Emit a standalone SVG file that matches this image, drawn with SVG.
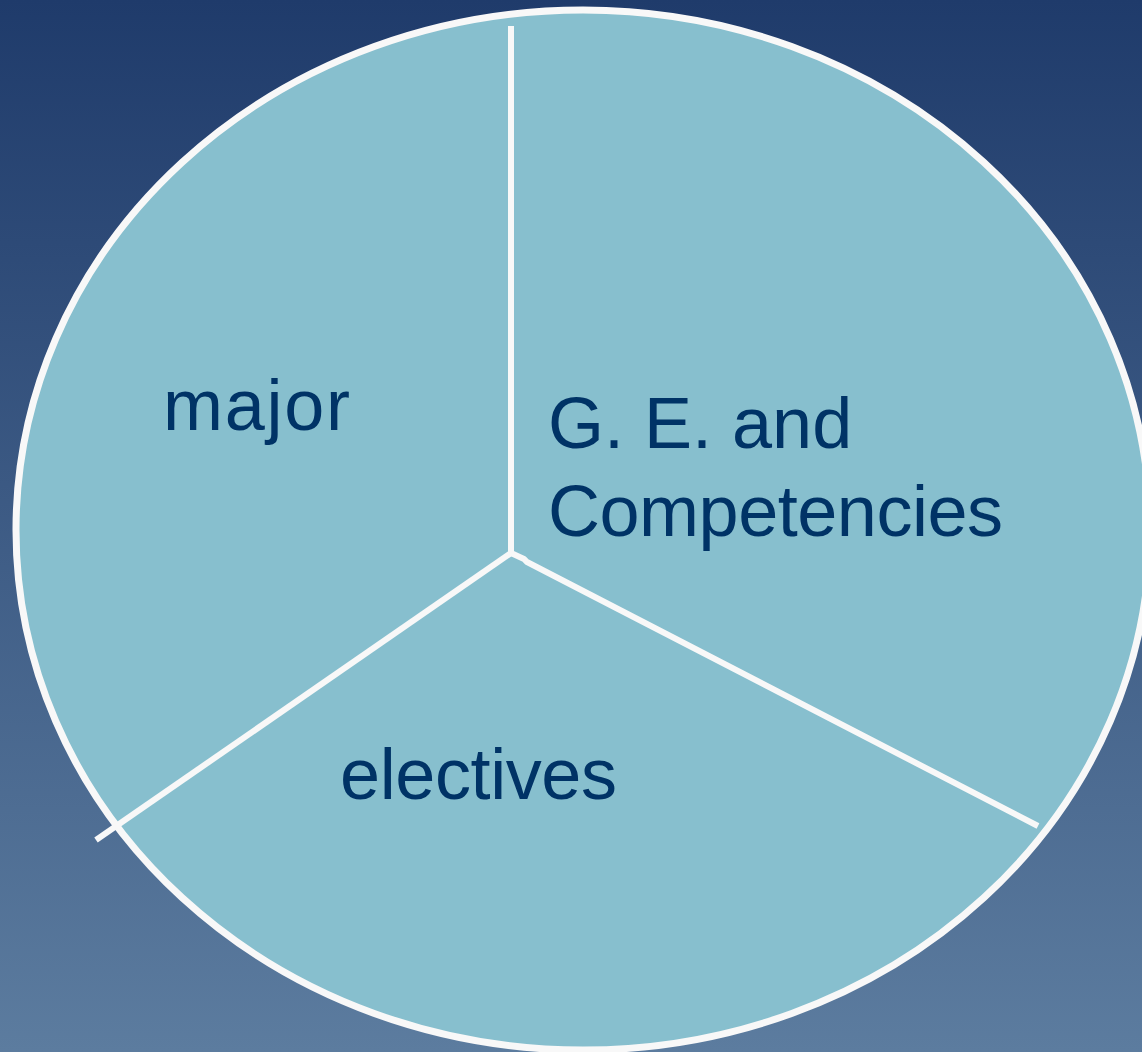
<svg xmlns="http://www.w3.org/2000/svg" width="1142" height="1052" viewBox="0 0 1142 1052">
<defs>
<linearGradient id="bg" x1="0" y1="0" x2="0" y2="1">
<stop offset="0" stop-color="#1f3b6b"/>
<stop offset="1" stop-color="#5c7c9f"/>
</linearGradient>
<style>
.lbl{font-family:"Liberation Sans",Arial,sans-serif;font-size:72px;fill:#003366}
.div{stroke:#f8f8f8;stroke-width:6;fill:none}
</style>
</defs>
<rect width="1142" height="1052" fill="url(#bg)"/>
<g id="pie">
<ellipse cx="583" cy="530" rx="567" ry="520" fill="#87bfce" stroke="#f8f8f8" stroke-width="7"/>
</g>
<g id="connectors">
<line class="div" x1="511" y1="26" x2="511" y2="553"/>
<line class="div" x1="511" y1="553" x2="96" y2="840"/>
<polyline class="div" points="511,553 524,559 527,562 1038,826"/>
</g>
<g id="major"><text class="lbl" x="163" y="430" textLength="187">major</text></g>
<g id="ge"><text class="lbl" x="548" y="448">G. E. and</text><text class="lbl" x="548" y="536" textLength="455">Competencies</text></g>
<g id="electives"><text class="lbl" x="340" y="799" textLength="277">electives</text></g>
</svg>
